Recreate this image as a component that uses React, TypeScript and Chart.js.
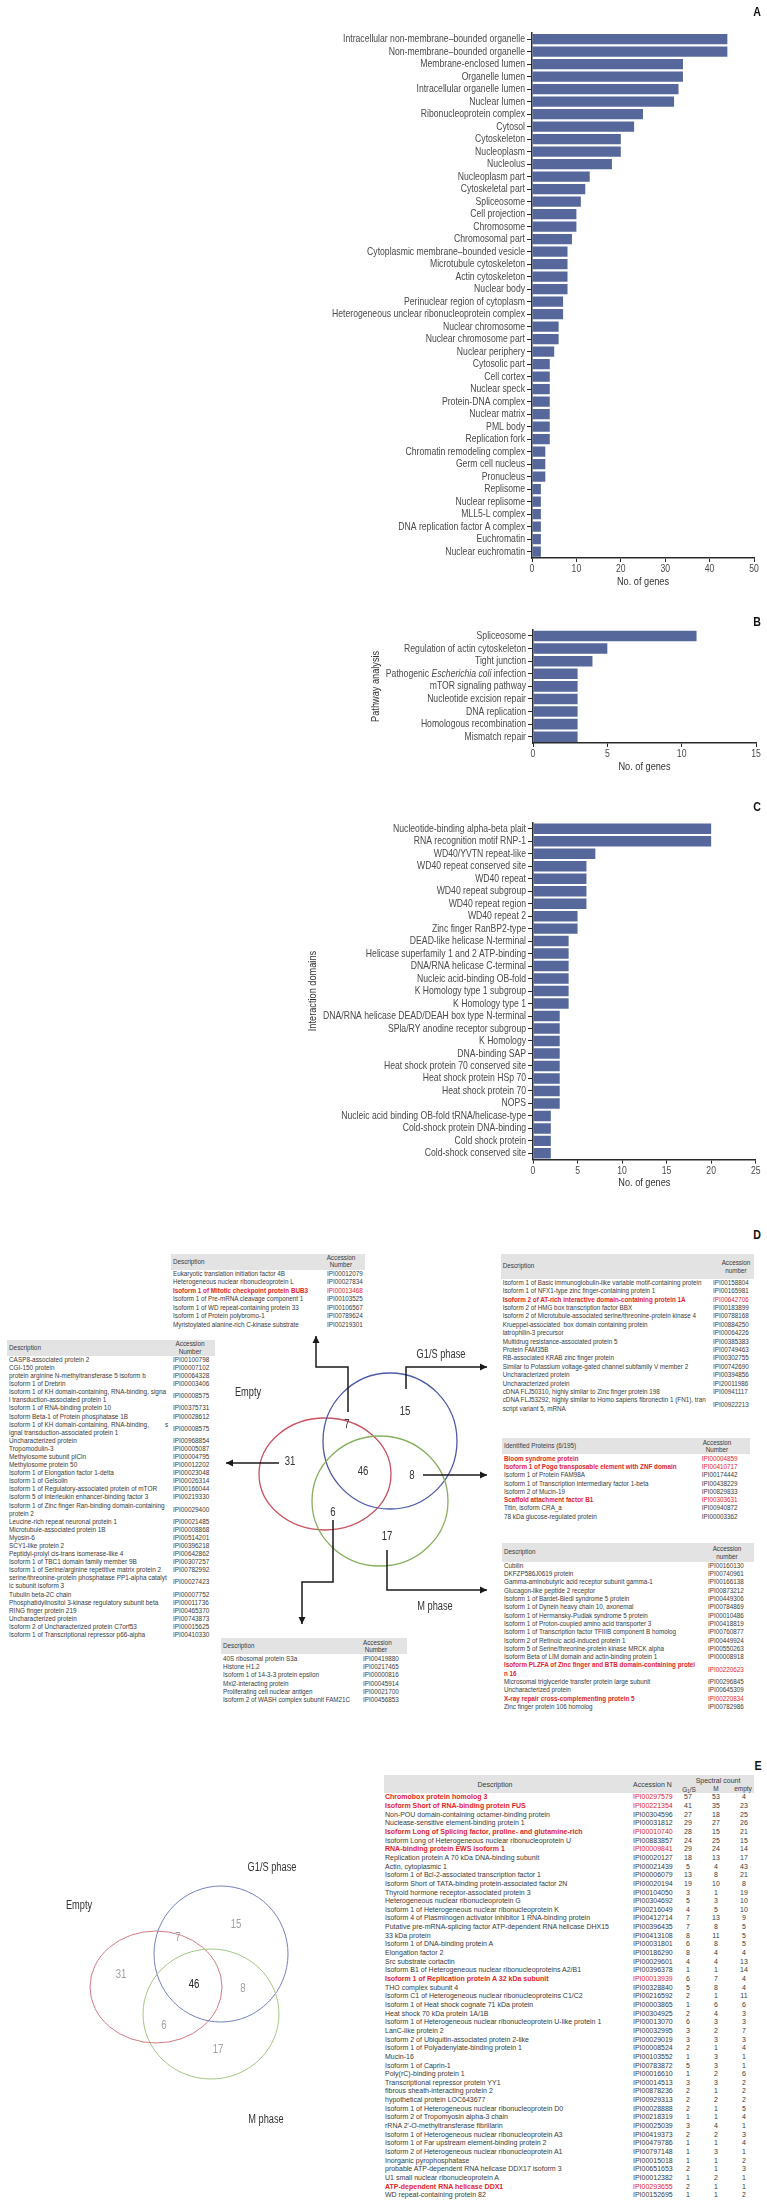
import React, { useEffect, useRef } from 'react';
import { Chart, registerables } from 'chart.js';
Chart.register(...registerables);

// ---------------- DATA ----------------
const ccLabels = [
  'Intracellular non-membrane–bounded organelle', 'Non-membrane–bounded organelle', 'Membrane-enclosed lumen',
  'Organelle lumen', 'Intracellular organelle lumen', 'Nuclear lumen', 'Ribonucleoprotein complex', 'Cytosol',
  'Cytoskeleton', 'Nucleoplasm', 'Nucleolus', 'Nucleoplasm part', 'Cytoskeletal part', 'Spliceosome',
  'Cell projection', 'Chromosome', 'Chromosomal part', 'Cytoplasmic membrane–bounded vesicle',
  'Microtubule cytoskeleton', 'Actin cytoskeleton', 'Nuclear body', 'Perinuclear region of cytoplasm',
  'Heterogeneous unclear ribonucleoprotein complex', 'Nuclear chromosome', 'Nuclear chromosome part',
  'Nuclear periphery', 'Cytosolic part', 'Cell cortex', 'Nuclear speck', 'Protein-DNA complex', 'Nuclear matrix',
  'PML body', 'Replication fork', 'Chromatin remodeling complex', 'Germ cell nucleus', 'Pronucleus', 'Replisome',
  'Nuclear replisome', 'MLL5-L complex', 'DNA replication factor A complex', 'Euchromatin', 'Nuclear euchromatin',
];
const ccCounts = [44, 44, 34, 34, 33, 32, 25, 23, 20, 20, 18, 13, 12, 11, 10, 10, 9, 8, 8, 8, 8, 7, 7, 6, 6, 5,
  4, 4, 4, 4, 4, 4, 4, 3, 3, 3, 2, 2, 2, 2, 2, 2];

const pathwayLabels = ['Spliceosome', 'Regulation of actin cytoskeleton', 'Tight junction',
  'Pathogenic Escherichia coli infection', 'mTOR signaling pathway', 'Nucleotide excision repair',
  'DNA replication', 'Homologous recombination', 'Mismatch repair'];
const pathwayCounts = [11, 5, 4, 3, 3, 3, 3, 3, 3];

const domainLabels = ['Nucleotide-binding alpha-beta plait', 'RNA recognition motif RNP-1', 'WD40/YVTN repeat-like',
  'WD40 repeat conserved site', 'WD40 repeat', 'WD40 repeat subgroup', 'WD40 repeat region', 'WD40 repeat 2',
  'Zinc finger RanBP2-type', 'DEAD-like helicase N-terminal', 'Helicase superfamily 1 and 2 ATP-binding',
  'DNA/RNA helicase C-terminal', 'Nucleic acid-binding OB-fold', 'K Homology type 1 subgroup', 'K Homology type 1',
  'DNA/RNA helicase DEAD/DEAH box type N-terminal', 'SPla/RY anodine receptor subgroup', 'K Homology',
  'DNA-binding SAP', 'Heat shock protein 70 conserved site', 'Heat shock protein HSp 70', 'Heat shock protein 70',
  'NOPS', 'Nucleic acid binding OB-fold tRNA/helicase-type', 'Cold-shock protein DNA-binding', 'Cold shock protein',
  'Cold-shock conserved site'];
const domainCounts = [20, 20, 7, 6, 6, 6, 6, 5, 5, 4, 4, 4, 4, 4, 4, 3, 3, 3, 3, 3, 3, 3, 3, 2, 2, 2, 2];

const vennSets = ['Empty', 'G1/S phase', 'M phase'];
// empty only, G1/S only, M only, empty∩G1/S, empty∩M, G1/S∩M, all three
const vennCounts = [31, 15, 17, 7, 6, 8, 46];

const emptyDesc = [
  'CASP8-associated protein 2', 'CGI-150 protein', 'protein arginine N-methyltransferase 5 isoform b',
  'Isoform 1 of Drebrin', 'Isoform 1 of KH domain-containing, RNA-binding, signa\nl transduction-associated protein 1',
  'Isoform 1 of RNA-binding protein 10', 'Isoform Beta-1 of Protein phosphatase 1B',
  'Isoform 1 of KH domain-containing, RNA-binding,         s\nignal transduction-associated protein 1',
  'Uncharacterized protein', 'Tropomodulin-3', 'Methylosome subunit pICln', 'Methylosome protein 50',
  'Isoform 1 of Elongation factor 1-delta', 'Isoform 1 of Gelsolin', 'Isoform 1 of Regulatory-associated protein of mTOR',
  'Isoform 5 of Interleukin enhancer-binding factor 3', 'Isoform 1 of Zinc finger Ran-binding domain-containing\nprotein 2',
  'Leucine-rich repeat neuronal protein 1', 'Microtubule-associated protein 1B', 'Myosin-6', 'SCY1-like protein 2',
  'Peptidyl-prolyl cis-trans isomerase-like 4', 'Isoform 1 of TBC1 domain family member 9B',
  'Isoform 1 of Serine/arginine repetitive matrix protein 2',
  'serine/threonine-protein phosphatase PP1-alpha catalyt\nic subunit isoform 3', 'Tubulin beta-2C chain',
  'Phosphatidylinositol 3-kinase regulatory subunit beta', 'RING finger protein 219', 'Uncharacterized protein',
  'Isoform 2 of Uncharacterized protein C7orf53', 'Isoform 1 of Transcriptional repressor p66-alpha'];
const emptyAcc = ['IPI00100798', 'IPI00007102', 'IPI00064328', 'IPI00003406', 'IPI00008575', 'IPI00375731',
  'IPI00028612', 'IPI00008575', 'IPI00968854', 'IPI00005087', 'IPI00004795', 'IPI00012202', 'IPI00023048',
  'IPI00026314', 'IPI00166044', 'IPI00219330', 'IPI00029400', 'IPI00021485', 'IPI00008868', 'IPI00514201',
  'IPI00396218', 'IPI00642862', 'IPI00307257', 'IPI00782992', 'IPI00027423', 'IPI00007752', 'IPI00011736',
  'IPI00465370', 'IPI00743873', 'IPI00015625', 'IPI00410330'];

const emptyG1sDesc = ['Eukaryotic translation initiation factor 4B', 'Heterogeneous nuclear ribonucleoprotein L',
  'Isoform 1 of Mitotic checkpoint protein BUB3', 'Isoform 1 of Pre-mRNA cleavage component 1',
  'Isoform 1 of WD repeat-containing protein 33', 'Isoform 1 of Protein polybromo-1',
  'Myristoylated alanine-rich C-kinase substrate'];
const emptyG1sAcc = ['IPI00012079', 'IPI00027834', 'IPI00013468', 'IPI00103525', 'IPI00106567', 'IPI00789624', 'IPI00219301'];
const emptyG1sRed = [2];

const g1sDesc = ['Isoform 1 of Basic immunoglobulin-like variable motif-containing protein',
  'Isoform 1 of NFX1-type zinc finger-containing protein 1', 'Isoform 2 of AT-rich interactive domain-containing protein 1A',
  'Isoform 2 of HMG box transcription factor BBX', 'Isoform 2 of Microtubule-associated serine/threonine-protein kinase 4',
  'Krueppel-associated  box domain containing protein', 'latrophilin-3 precursor',
  'Multidrug resistance-associated protein 5', 'Protein FAM35B', 'RB-associated KRAB zinc finger protein',
  'Similar to Potassium voltage-gated channel subfamily V member 2', 'Uncharacterized protein', 'Uncharacterized protein',
  'cDNA FLJ50310, highly similar to Zinc finger protein 198',
  'cDNA FLJ53292, highly similar to Homo sapiens fibronectin 1 (FN1), tran\nscript variant 5, mRNA'];
const g1sAcc = ['IPI00158804', 'IPI00165981', 'IPI00642706', 'IPI00183899', 'IPI00788168', 'IPI00884250',
  'IPI00064226', 'IPI00385383', 'IPI00749463', 'IPI00302755', 'IPI00742690', 'IPI00394856', 'IPI20011986',
  'IPI00941117', 'IPI00922213'];
const g1sRed = [2];

const g1sMDesc = ['Bloom syndrome protein', 'Isoform 1 of Pogo transposable element with ZNF domain',
  'Isoform 1 of Protein FAM98A', 'Isoform 1 of Transcription intermediary factor 1-beta', 'Isoform 2 of Mucin-19',
  'Scaffold attachment factor B1', 'Titin, isoform CRA_a', '78 kDa glucose-regulated protein'];
const g1sMAcc = ['IPI00004859', 'IPI00410717', 'IPI00174442', 'IPI00438229', 'IPI00829833', 'IPI00303631',
  'IPI00940872', 'IPI00003362'];
const g1sMRed = [0, 1, 5];

const mDesc = ['Cubilin', 'DKFZP586J0619 protein', 'Gamma-aminobutyric acid receptor subunit gamma-1',
  'Glucagon-like peptide 2 receptor', 'Isoform 1 of Bardet-Biedl syndrome 5 protein',
  'Isoform 1 of Dynein heavy chain 10, axonemal', 'Isoform 1 of Hermansky-Pudlak syndrome 5 protein',
  'Isoform 1 of Proton-coupled amino acid transporter 3', 'Isoform 1 of Transcription factor TFIIIB component B homolog',
  'Isoform 2 of Retinoic acid-induced protein 1', 'Isoform 5 of Serine/threonine-protein kinase MRCK alpha',
  'Isoform Beta of LIM domain and actin-binding protein 1',
  'Isoform PLZFA of Zinc finger and BTB domain-containing protei\nn 16',
  'Microsomal triglyceride transfer protein large subunit', 'Uncharacterized protein',
  'X-ray repair cross-complementing protein 5', 'Zinc finger protein 106 homolog'];
const mAcc = ['IPI00160130', 'IPI00740961', 'IPI00166138', 'IPI00873212', 'IPI00449306', 'IPI00784869',
  'IPI00010486', 'IPI00418819', 'IPI00760877', 'IPI00449924', 'IPI00550263', 'IPI00008918', 'IPI00220623',
  'IPI00296845', 'IPI00645309', 'IPI00220834', 'IPI00782986'];
const mRed = [12, 15];

const emptyMDesc = ['40S ribosomal protein S3a', 'Histone H1.2', 'Isoform 1 of 14-3-3 protein epsilon',
  'Mxi2-interacting protein', 'Proliferating cell nuclear antigen', 'Isoform 2 of WASH complex subunit FAM21C'];
const emptyMAcc = ['IPI00419880', 'IPI00217465', 'IPI00000816', 'IPI00045914', 'IPI00021700', 'IPI00456853'];

const commonDesc = ['Chromobox protein homolog 3', 'Isoform Short of RNA-binding protein FUS',
  'Non-POU domain-containing octamer-binding protein', 'Nuclease-sensitive element-binding protein 1',
  'Isoform Long of Splicing factor, proline- and glutamine-rich',
  'Isoform Long of Heterogeneous nuclear ribonucleoprotein U', 'RNA-binding protein EWS isoform 1',
  'Replication protein A 70 kDa DNA-binding subunit', 'Actin, cytoplasmic 1',
  'Isoform 1 of Bcl-2-associated transcription factor 1', 'Isoform Short of TATA-binding protein-associated factor 2N',
  'Thyroid hormone receptor-associated protein 3', 'Heterogeneous nuclear ribonucleoprotein G',
  'Isoform 1 of Heterogeneous nuclear ribonucleoprotein K',
  'Isoform 4 of Plasminogen activator inhibitor 1 RNA-binding protein',
  'Putative pre-mRNA-splicing factor ATP-dependent RNA helicase DHX15', '33 kDa protein',
  'Isoform 1 of DNA-binding protein A', 'Elongation factor 2', 'Src substrate cortactin',
  'Isoform B1 of Heterogeneous nuclear ribonucleoproteins A2/B1',
  'Isoform 1 of Replication protein A 32 kDa subunit', 'THO complex subunit 4',
  'Isoform C1 of Heterogeneous nuclear ribonucleoproteins C1/C2', 'Isoform 1 of Heat shock cognate 71 kDa protein',
  'Heat shock 70 kDa protein 1A/1B', 'Isoform 1 of Heterogeneous nuclear ribonucleoprotein U-like protein 1',
  'LanC-like protein 2', 'Isoform 2 of Ubiquitin-associated protein 2-like',
  'Isoform 1 of Polyadenylate-binding protein 1', 'Mucin-16', 'Isoform 1 of Caprin-1', 'Poly(rC)-binding protein 1',
  'Transcriptional repressor protein YY1', 'fibrous sheath-interacting protein 2', 'hypothetical protein LOC643677',
  'Isoform 1 of Heterogeneous nuclear ribonucleoprotein D0', 'Isoform 2 of Tropomyosin alpha-3 chain',
  "rRNA 2'-O-methyltransferase fibrillarin", 'Isoform 1 of Heterogeneous nuclear ribonucleoprotein A3',
  'Isoform 1 of Far upstream element-binding protein 2', 'Isoform 2 of Heterogeneous nuclear ribonucleoprotein A1',
  'Inorganic pyrophosphatase', 'probable ATP-dependent RNA helicase DDX17 isoform 3',
  'U1 small nuclear ribonucleoprotein A', 'ATP-dependent RNA helicase DDX1', 'WD repeat-containing protein 82'];
const commonAcc = ['IPI00297579', 'IPI00221354', 'IPI00304596', 'IPI00031812', 'IPI00010740', 'IPI00883857',
  'IPI00009841', 'IPI00020127', 'IPI00021439', 'IPI00006079', 'IPI00020194', 'IPI00104050', 'IPI00304692',
  'IPI00216049', 'IPI00412714', 'IPI00396435', 'IPI00413108', 'IPI00031801', 'IPI00186290', 'IPI00029601',
  'IPI00396378', 'IPI00013939', 'IPI00328840', 'IPI00216592', 'IPI00003865', 'IPI00304925', 'IPI00013070',
  'IPI00032995', 'IPI00029019', 'IPI00008524', 'IPI00103552', 'IPI00783872', 'IPI00016610', 'IPI00014513',
  'IPI00878236', 'IPI00929313', 'IPI00028888', 'IPI00218319', 'IPI00025039', 'IPI00419373', 'IPI00479786',
  'IPI00797148', 'IPI00015018', 'IPI00651653', 'IPI00012382', 'IPI00293655', 'IPI00152695'];
const spectralG1S = [57, 41, 27, 29, 28, 24, 29, 18, 5, 13, 19, 3, 5, 4, 7, 7, 8, 6, 8, 4, 1, 6, 5, 2, 1, 2, 6, 3, 3, 2,
  1, 5, 1, 3, 2, 2, 2, 1, 3, 2, 1, 1, 1, 2, 1, 2, 1];
const spectralM = [53, 35, 18, 27, 15, 25, 24, 13, 4, 8, 10, 1, 3, 5, 13, 8, 11, 8, 4, 4, 1, 7, 8, 1, 6, 4, 3, 2, 3, 1,
  3, 3, 2, 3, 1, 2, 1, 1, 4, 2, 1, 3, 1, 1, 2, 1, 1];
const spectralEmpty = [4, 23, 25, 26, 21, 15, 14, 17, 43, 21, 8, 19, 10, 10, 9, 5, 5, 5, 4, 13, 14, 4, 4, 11, 6, 3, 3, 7,
  3, 4, 1, 1, 6, 2, 2, 2, 5, 4, 1, 3, 4, 1, 2, 3, 1, 1, 2];
const commonRed = [0, 1, 4, 6, 21, 45];

// ---------------- STYLE ----------------
const SANS = "'Liberation Sans', Arial, sans-serif";
const COND = 0.785; // horizontal squeeze to imitate the condensed face
const BAR = '#56689b';
const LABEL = '#4a4a4a';
const AXIS = '#2a2a2a';
const RED = '#e2242b';
const TXT = '#3a3a3a';
const HDR = '#e3e3e3';

function condText(ctx: any, text: string, x: number, y: number, size: number, align: string, color: string,
  opts: { italic?: boolean; rotate?: number; sx?: number } = {}) {
  ctx.save();
  ctx.translate(x, y);
  if (opts.rotate) ctx.rotate(opts.rotate);
  ctx.scale(opts.sx || COND, 1);
  ctx.font = `${opts.italic ? 'italic ' : ''}${size}px ${SANS}`;
  ctx.textAlign = align;
  ctx.textBaseline = 'middle';
  ctx.fillStyle = color;
  ctx.fillText(text, 0, 0);
  const w = ctx.measureText(text).width * (opts.sx || COND);
  ctx.restore();
  return w;
}

type BarCfg = {
  top: number; height: number; labels: string[]; values: number[]; max: number; step: number;
  padTop: number; plotLeft: number; plotRight: number; xAxisH: number; barPct: number;
  yTitle?: string; yTitleX?: number; italic?: { idx: number; parts: { t: string; it?: boolean }[] };
};

function HBar(p: BarCfg) {
  const ref = useRef<HTMLCanvasElement>(null);
  useEffect(() => {
    const fs = 11;
    const labelPlugin = {
      id: 'condLabels',
      afterDraw(chart: any) {
        const ctx = chart.ctx;
        const ys = chart.scales.y;
        const xs = chart.scales.x;
        const area = chart.chartArea;
        const xr = area.left - 7;
        p.labels.forEach((lab, i) => {
          const y = ys.getPixelForTick(i);
          if (p.italic && p.italic.idx === i) {
            let x = xr;
            for (let k = p.italic.parts.length - 1; k >= 0; k--) {
              const part = p.italic.parts[k];
              x -= condText(ctx, part.t, x, y, fs, 'right', LABEL, { italic: !!part.it });
            }
          } else {
            condText(ctx, lab, xr, y, fs, 'right', LABEL);
          }
        });
        xs.ticks.forEach((t: any) => {
          condText(ctx, String(t.value), xs.getPixelForValue(t.value), area.bottom + 11, 11, 'center', LABEL);
        });
        condText(ctx, 'No. of genes', (area.left + area.right) / 2, area.bottom + 23.5, 11.5, 'center', '#333', { sx: 0.8 });
        if (p.yTitle) {
          condText(ctx, p.yTitle, p.yTitleX!, (area.top + area.bottom) / 2, 11.5, 'center', '#333', { rotate: -Math.PI / 2, sx: 0.8 });
        }
      },
    };
    const chart = new Chart(ref.current!, {
      type: 'bar',
      data: {
        labels: p.labels,
        datasets: [{ data: p.values, backgroundColor: BAR, borderWidth: 0, barPercentage: p.barPct, categoryPercentage: 1 }],
      },
      options: {
        indexAxis: 'y',
        animation: false,
        responsive: false,
        maintainAspectRatio: false,
        layout: { padding: { top: p.padTop, left: 0, right: 767 - p.plotRight, bottom: 0 } },
        plugins: { legend: { display: false }, tooltip: { enabled: false } },
        scales: {
          x: {
            min: 0, max: p.max,
            ticks: { stepSize: p.step, callback: () => '', font: { size: 11 } },
            grid: { drawOnChartArea: false, tickLength: 4, color: AXIS, lineWidth: 1 },
            border: { display: true, color: AXIS, width: 1.5 },
            afterFit: (s: any) => { s.height = p.xAxisH; },
          },
          y: {
            ticks: { autoSkip: false, callback: () => '' },
            grid: { drawOnChartArea: false, tickLength: 5, color: AXIS, lineWidth: 1, offset: false },
            border: { display: true, color: AXIS, width: 1.5 },
            afterFit: (s: any) => { s.width = p.plotLeft; },
          },
        },
      } as any,
      plugins: [labelPlugin],
    });
    return () => chart.destroy();
  }, []);
  return (
    <canvas ref={ref} width={767} height={p.height}
      style={{ position: 'absolute', left: 0, top: p.top, width: 767, height: p.height }} />
  );
}

// --------------- Venn diagrams (drawn on Chart.js linear scales) ---------------
const VTOP = 1230;
const VH = 978;

type VennLayout = {
  circles: { cx: number; cy: number; rx: number; ry: number; color: string }[];
  lw: number;
  counts: { x: number; y: number }[];
  countColor: string[];
  labels: { x: number; y: number }[];
  arrows: number[][][];
};

const vennD: VennLayout = {
  circles: [
    { cx: 325, cy: 1474, rx: 66, ry: 56, color: '#c9505e' },
    { cx: 390, cy: 1441, rx: 67, ry: 68, color: '#4c5aa8' },
    { cx: 380, cy: 1501, rx: 68, ry: 65, color: '#86b05e' },
  ],
  lw: 1.3,
  counts: [
    { x: 290, y: 1462 }, { x: 405, y: 1412 }, { x: 387, y: 1537 }, { x: 347, y: 1425 },
    { x: 333, y: 1513 }, { x: 412, y: 1476 }, { x: 363, y: 1472 },
  ],
  countColor: ['#333', '#333', '#333', '#333', '#333', '#333', '#333'],
  labels: [{ x: 248, y: 1393 }, { x: 441, y: 1355 }, { x: 435, y: 1607 }],
  arrows: [
    [[348, 1412], [348, 1367], [316, 1367], [316, 1336]],
    [[279, 1463], [226, 1463]],
    [[406, 1389], [406, 1367], [487, 1367]],
    [[423, 1475], [487, 1475]],
    [[333, 1520], [333, 1582], [302, 1582], [302, 1624]],
    [[387, 1550], [387, 1590], [487, 1590]],
  ],
};

const ER = { x: 156, y: 1987 };
const vennE: VennLayout = {
  circles: [
    { cx: ER.x, cy: ER.y, rx: 66, ry: 56, color: '#d57882' },
    { cx: ER.x + 65, cy: ER.y - 33, rx: 67, ry: 68, color: '#7480c0' },
    { cx: ER.x + 55, cy: ER.y + 27, rx: 68, ry: 65, color: '#a3c683' },
  ],
  lw: 1,
  counts: [
    { x: ER.x - 35, y: ER.y - 12 }, { x: ER.x + 80, y: ER.y - 62 }, { x: ER.x + 62, y: ER.y + 63 },
    { x: ER.x + 22, y: ER.y - 49 }, { x: ER.x + 8, y: ER.y + 39 }, { x: ER.x + 87, y: ER.y + 2 },
    { x: ER.x + 38, y: ER.y - 2 },
  ],
  countColor: ['#a0a0a0', '#a0a0a0', '#a0a0a0', '#a0a0a0', '#a0a0a0', '#a0a0a0', '#222'],
  labels: [{ x: ER.x - 77, y: ER.y - 81 }, { x: ER.x + 116, y: ER.y - 119 }, { x: ER.x + 110, y: ER.y + 133 }],
  arrows: [],
};

function VennCanvas() {
  const ref = useRef<HTMLCanvasElement>(null);
  useEffect(() => {
    const draw = (chart: any, L: VennLayout) => {
      const ctx = chart.ctx;
      const X = (v: number) => chart.scales.x.getPixelForValue(v);
      const Y = (v: number) => chart.scales.y.getPixelForValue(v);
      ctx.save();
      L.circles.forEach((c) => {
        ctx.beginPath();
        ctx.ellipse(X(c.cx), Y(c.cy), c.rx, c.ry, 0, 0, Math.PI * 2);
        ctx.strokeStyle = c.color;
        ctx.lineWidth = L.lw;
        ctx.stroke();
      });
      vennCounts.forEach((n, i) => {
        condText(ctx, String(n), X(L.counts[i].x), Y(L.counts[i].y), 12, 'center', L.countColor[i], { sx: 0.8 });
      });
      vennSets.forEach((s, i) => condText(ctx, s, X(L.labels[i].x), Y(L.labels[i].y), 12, 'center', '#333', { sx: 0.77 }));
      ctx.strokeStyle = '#1a1a1a';
      ctx.fillStyle = '#1a1a1a';
      ctx.lineWidth = 1.5;
      L.arrows.forEach((pts) => {
        ctx.beginPath();
        pts.forEach((pt, i) => (i === 0 ? ctx.moveTo(X(pt[0]), Y(pt[1])) : ctx.lineTo(X(pt[0]), Y(pt[1]))));
        ctx.stroke();
        const a = pts[pts.length - 2];
        const b = pts[pts.length - 1];
        const ang = Math.atan2(Y(b[1]) - Y(a[1]), X(b[0]) - X(a[0]));
        const hl = 7;
        const hw = 3.5;
        const bx = X(b[0]);
        const by = Y(b[1]);
        ctx.beginPath();
        ctx.moveTo(bx, by);
        ctx.lineTo(bx - hl * Math.cos(ang) + hw * Math.sin(ang), by - hl * Math.sin(ang) - hw * Math.cos(ang));
        ctx.lineTo(bx - hl * Math.cos(ang) - hw * Math.sin(ang), by - hl * Math.sin(ang) + hw * Math.cos(ang));
        ctx.closePath();
        ctx.fill();
      });
      ctx.restore();
    };
    const chart = new Chart(ref.current!, {
      type: 'scatter',
      data: { datasets: [] },
      options: {
        animation: false,
        responsive: false,
        layout: { padding: 0 },
        plugins: { legend: { display: false }, tooltip: { enabled: false } },
        scales: {
          x: { type: 'linear', min: 0, max: 767, display: false },
          y: { type: 'linear', min: VTOP, max: VTOP + VH, reverse: true, display: false },
        },
      } as any,
      plugins: [{
        id: 'venn',
        afterDraw(c: any) { draw(c, vennD); draw(c, vennE); },
      }],
    });
    return () => chart.destroy();
  }, []);
  return (
    <canvas ref={ref} width={767} height={VH}
      style={{ position: 'absolute', left: 0, top: VTOP, width: 767, height: VH, pointerEvents: 'none' }} />
  );
}

// --------------- Tables (HTML text) ---------------
function Txt(props: { x: number; y: number; s: string; fs: number; lh?: number; align?: string; color?: string; bold?: boolean }) {
  const L = props.lh || props.fs + 2;
  const st: any = {
    position: 'absolute', top: props.y - L / 2, lineHeight: L + 'px', fontSize: props.fs, fontFamily: SANS,
    color: props.color || TXT, fontWeight: props.bold ? 'bold' : 'normal', whiteSpace: 'pre',
  };
  if (props.align === 'center') { st.left = props.x - 150; st.width = 300; st.textAlign = 'center'; }
  else st.left = props.x;
  return <div style={st}>{props.s}</div>;
}

type TCfg = {
  x: number; w: number; hTop: number; hH: number; head: string; accHead: string[]; accHeadX: number;
  accHeadAlign: string; accHeadY: number[]; descs: string[]; accs: string[]; reds: number[];
  y0: number; lh: number; accX: number; fs: number;
};

function tableEls(key: string, c: TCfg) {
  const out: any[] = [];
  out.push(<div key={key + 'bg'} style={{ position: 'absolute', left: c.x, top: c.hTop, width: c.w, height: c.hH, background: HDR }} />);
  out.push(<Txt key={key + 'h'} x={c.x + 2} y={c.hTop + c.hH / 2} s={c.head} fs={c.fs} />);
  c.accHead.forEach((t, i) => out.push(<Txt key={key + 'ah' + i} x={c.accHeadX} y={c.accHeadY[i]} s={t} fs={c.fs} align={c.accHeadAlign} />));
  let line = 0;
  c.descs.forEach((d, i) => {
    const n = d.split('\n').length;
    const red = c.reds.includes(i);
    const yc = c.y0 + line * c.lh;
    out.push(
      <div key={key + 'd' + i} style={{
        position: 'absolute', left: c.x + 2, top: yc - c.lh / 2, lineHeight: c.lh + 'px', fontSize: c.fs, fontFamily: SANS,
        whiteSpace: 'pre', color: red ? RED : TXT, fontWeight: red ? 'bold' : 'normal',
      }}>{d}</div>,
    );
    out.push(<Txt key={key + 'a' + i} x={c.accX} y={yc + ((n - 1) * c.lh) / 2} s={c.accs[i]} fs={c.fs} lh={c.lh} color={red ? RED : TXT} />);
    line += n;
  });
  return out;
}

function CommonTable() {
  const out: any[] = [];
  const fs = 7;
  const y0 = 1797.7;
  const lh = 8.65;
  out.push(<div key="ebg" style={{ position: 'absolute', left: 384, top: 1775, width: 370, height: 18, background: HDR }} />);
  out.push(<Txt key="eh1" x={495} y={1784} s="Description" fs={fs} align="center" />);
  out.push(<Txt key="eh2" x={633} y={1784} s="Accession N" fs={fs} />);
  out.push(<Txt key="eh3" x={718} y={1780} s="Spectral count" fs={fs} align="center" />);
  out.push(
    <div key="eh4" style={{ position: 'absolute', left: 639, width: 100, top: 1789 - 4.5, lineHeight: '9px', fontSize: 6.5, fontFamily: SANS, color: TXT, textAlign: 'center' }}>
      G<span style={{ fontSize: 4.5, position: 'relative', top: 1.5 }}>1</span>/S
    </div>,
  );
  out.push(<Txt key="eh5" x={716} y={1789} s="M" fs={6.5} align="center" />);
  out.push(<Txt key="eh6" x={743} y={1789} s="empty" fs={6.5} align="center" />);
  commonDesc.forEach((d, i) => {
    const red = commonRed.includes(i);
    const y = y0 + i * lh;
    const col = red ? RED : TXT;
    out.push(<Txt key={'ed' + i} x={385} y={y} s={d} fs={fs} lh={lh} color={col} bold={red} />);
    out.push(<Txt key={'ea' + i} x={633} y={y} s={commonAcc[i]} fs={fs} lh={lh} color={col} />);
    out.push(<Txt key={'eg' + i} x={688} y={y} s={String(spectralG1S[i])} fs={fs} lh={lh} align="center" />);
    out.push(<Txt key={'em' + i} x={716} y={y} s={String(spectralM[i])} fs={fs} lh={lh} align="center" />);
    out.push(<Txt key={'ee' + i} x={744} y={y} s={String(spectralEmpty[i])} fs={fs} lh={lh} align="center" />);
  });
  return <>{out}</>;
}

function PanelLetter(props: { s: string; x: number; y: number }) {
  return (
    <div style={{
      position: 'absolute', left: props.x - 20, width: 40, textAlign: 'center', top: props.y - 9, lineHeight: '18px',
      fontFamily: SANS, fontWeight: 'bold', fontSize: 12.5, color: '#111', transform: 'scaleX(0.85)',
    }}>{props.s}</div>
  );
}

export default function App() {
  return (
    <div style={{ position: 'absolute', left: 0, top: 0, width: 767, height: 2208, background: '#fff', overflow: 'hidden' }}>
      <HBar top={0} height={600} labels={ccLabels} values={ccCounts} max={50} step={10}
        padTop={32.75} plotLeft={532} plotRight={754} xAxisH={42} barPct={0.82} />
      <HBar top={600} height={180} labels={pathwayLabels} values={pathwayCounts} max={15} step={5}
        padTop={29.7} plotLeft={533} plotRight={756} xAxisH={37} barPct={0.84}
        yTitle="Pathway analysis" yTitleX={376}
        italic={{ idx: 3, parts: [{ t: 'Pathogenic ' }, { t: 'Escherichia coli', it: true }, { t: ' infection' }] }} />
      <HBar top={780} height={420} labels={domainLabels} values={domainCounts} max={25} step={5}
        padTop={42.5} plotLeft={533} plotRight={755.7} xAxisH={40.4} barPct={0.84}
        yTitle="Interaction domains" yTitleX={313} />

      <PanelLetter s="A" x={757} y={12} />
      <PanelLetter s="B" x={757} y={622} />
      <PanelLetter s="C" x={757} y={807} />
      <PanelLetter s="D" x={757} y={1235} />
      <PanelLetter s="E" x={758} y={1766} />

      {tableEls('emp', {
        x: 7, w: 208, hTop: 1340, hH: 16, head: 'Description', accHead: ['Accession', 'Number'], accHeadX: 190,
        accHeadAlign: 'center', accHeadY: [1344.3, 1352], descs: emptyDesc, accs: emptyAcc, reds: [],
        y0: 1360, lh: 8.09, accX: 173, fs: 6.4,
      })}
      {tableEls('eg', {
        x: 171, w: 194, hTop: 1254, hH: 16, head: 'Description', accHead: ['Accession', 'Number'], accHeadX: 341,
        accHeadAlign: 'center', accHeadY: [1258.3, 1265.5], descs: emptyG1sDesc, accs: emptyG1sAcc, reds: emptyG1sRed,
        y0: 1274, lh: 8.5, accX: 327, fs: 6.3,
      })}
      {tableEls('g', {
        x: 500.7, w: 253.3, hTop: 1254, hH: 25, head: 'Description', accHead: ['Accession', 'number'], accHeadX: 736,
        accHeadAlign: 'center', accHeadY: [1263, 1271], descs: g1sDesc, accs: g1sAcc, reds: g1sRed,
        y0: 1283, lh: 8.4, accX: 713, fs: 6.3,
      })}
      {tableEls('gm', {
        x: 502, w: 248, hTop: 1438, hH: 16, head: 'Identified Proteins (6/195)', accHead: ['Accession', 'Number'], accHeadX: 717,
        accHeadAlign: 'center', accHeadY: [1442.7, 1450], descs: g1sMDesc, accs: g1sMAcc, reds: g1sMRed,
        y0: 1459, lh: 8.25, accX: 701.7, fs: 6.3,
      })}
      {tableEls('m', {
        x: 502, w: 252, hTop: 1543, hH: 19, head: 'Description', accHead: ['Accession', 'number'], accHeadX: 727,
        accHeadAlign: 'center', accHeadY: [1549, 1556.7], descs: mDesc, accs: mAcc, reds: mRed,
        y0: 1566, lh: 8.3, accX: 708, fs: 6.3,
      })}
      {tableEls('em', {
        x: 221, w: 186, hTop: 1638, hH: 16, head: 'Description', accHead: ['Accession', ' Number'], accHeadX: 363,
        accHeadAlign: 'left', accHeadY: [1642.7, 1650], descs: emptyMDesc, accs: emptyMAcc, reds: [],
        y0: 1659, lh: 8.2, accX: 363, fs: 6.3,
      })}
      <CommonTable />
      <VennCanvas />
    </div>
  );
}
